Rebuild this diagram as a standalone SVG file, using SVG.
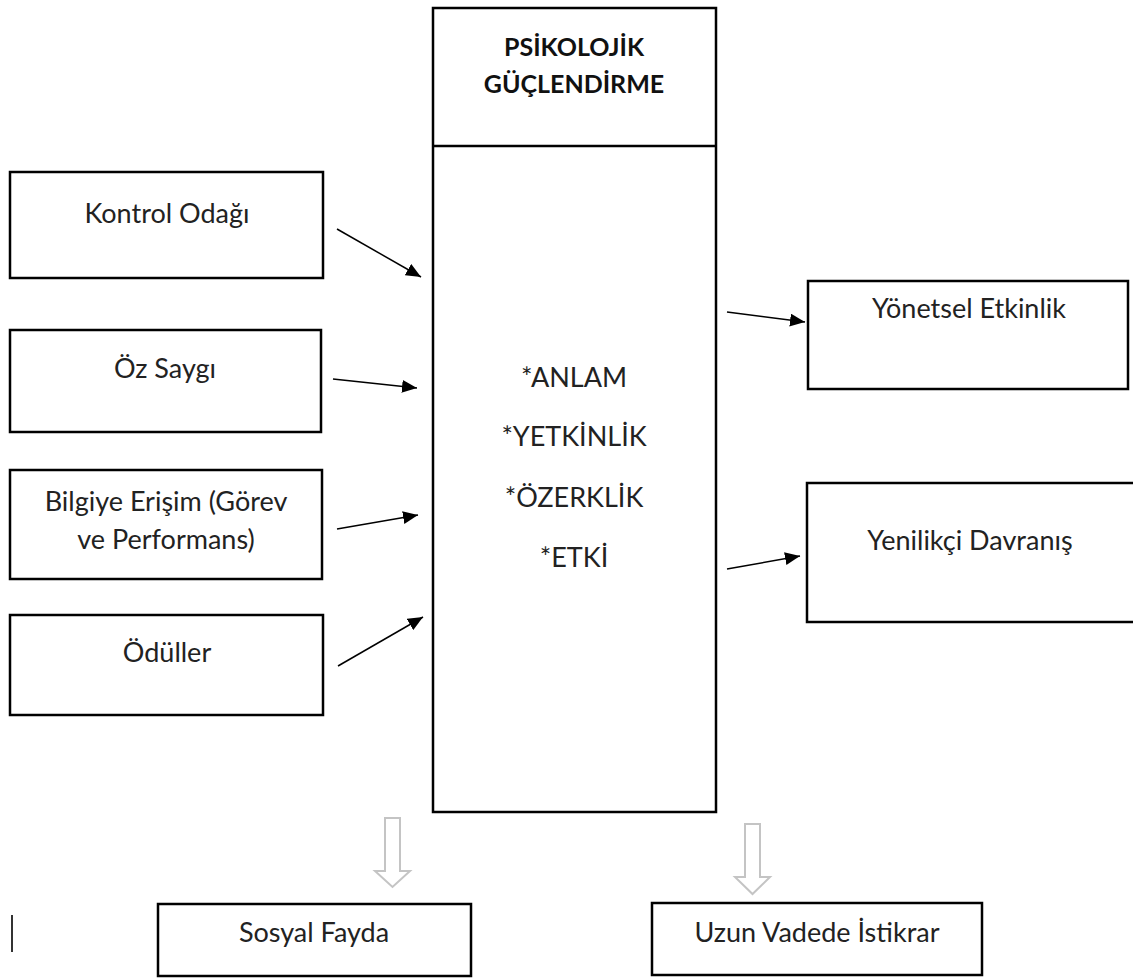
<svg xmlns="http://www.w3.org/2000/svg" width="1133" height="978" viewBox="0 0 1133 978">
  <style>
    .box { fill: #ffffff; stroke: #000000; stroke-width: 2.5; }
    .lbl { font-family: Lato, "Liberation Sans", sans-serif; font-size: 27px; fill: #222222; text-anchor: middle; }
    .ttl { font-family: Lato, "Liberation Sans", sans-serif; font-size: 25px; font-weight: bold; fill: #111111; text-anchor: middle; }
    .link { stroke: #000000; stroke-width: 1.5; fill: none; marker-end: url(#head); }
    .hollow { fill: #ffffff; stroke: #c4c4c4; stroke-width: 2; stroke-linejoin: miter; }
  </style>
  <defs>
    <marker id="head" markerUnits="userSpaceOnUse" markerWidth="16" markerHeight="13" refX="15" refY="6.5" orient="auto">
      <path d="M0,0 L15,6.5 L0,13 z" fill="#000000"/>
    </marker>
  </defs>
  <rect width="1133" height="978" fill="#ffffff"/>

  <!-- central construct -->
  <g id="node-center">
    <rect class="box" x="433" y="8" width="283" height="804"/>
    <line x1="433" y1="146" x2="716" y2="146" stroke="#000000" stroke-width="2.5"/>
    <text class="ttl" x="574" y="56">PSİKOLOJİK</text>
    <text class="ttl" x="574" y="93">GÜÇLENDİRME</text>
    <text class="lbl" x="574" y="387">*ANLAM</text>
    <text class="lbl" x="574" y="446">*YETKİNLİK</text>
    <text class="lbl" x="574" y="507">*ÖZERKLİK</text>
    <text class="lbl" x="574" y="567">*ETKİ</text>
  </g>

  <!-- antecedents -->
  <g id="node-kontrol">
    <rect class="box" x="10" y="172" width="313" height="106"/>
    <text class="lbl" x="167" y="223">Kontrol Odağı</text>
  </g>
  <g id="node-ozsaygi">
    <rect class="box" x="10" y="330" width="311" height="102"/>
    <text class="lbl" x="165" y="378">Öz Saygı</text>
  </g>
  <g id="node-bilgi">
    <rect class="box" x="10" y="470" width="312" height="109"/>
    <text class="lbl" x="166" y="511">Bilgiye Erişim (Görev</text>
    <text class="lbl" x="166" y="549">ve Performans)</text>
  </g>
  <g id="node-oduller">
    <rect class="box" x="10" y="615" width="313" height="100"/>
    <text class="lbl" x="167" y="662">Ödüller</text>
  </g>

  <!-- outcomes -->
  <g id="node-yonetsel">
    <rect class="box" x="808" y="281" width="320" height="108"/>
    <text class="lbl" x="969" y="318">Yönetsel Etkinlik</text>
  </g>
  <g id="node-yenilikci">
    <rect class="box" x="807" y="483" width="330" height="139"/>
    <text class="lbl" x="970" y="550">Yenilikçi Davranış</text>
  </g>
  <g id="node-sosyal">
    <rect class="box" x="158" y="904" width="313" height="72"/>
    <text class="lbl" x="314" y="942">Sosyal Fayda</text>
  </g>
  <g id="node-uzun">
    <rect class="box" x="652" y="903" width="330" height="72"/>
    <text class="lbl" x="817" y="942">Uzun Vadede İstikrar</text>
  </g>

  <!-- stray text cursor mark -->
  <rect x="11" y="915" width="2" height="37" fill="#333333"/>

  <!-- connectors -->
  <g id="connectors">
    <line class="link" x1="337" y1="229" x2="421" y2="277"/>
    <line class="link" x1="333" y1="379" x2="417" y2="388"/>
    <line class="link" x1="337" y1="529" x2="418" y2="515"/>
    <line class="link" x1="338" y1="666" x2="423" y2="617"/>
    <line class="link" x1="727" y1="312" x2="805" y2="322"/>
    <line class="link" x1="727" y1="569" x2="800" y2="556"/>
    <path class="hollow" d="M385,818 H400 V871 H410 L392.5,887 L375,871 H385 Z"/>
    <path class="hollow" d="M745,824 H760 V877 H770 L752.5,894 L735,877 H745 Z"/>
  </g>
</svg>
